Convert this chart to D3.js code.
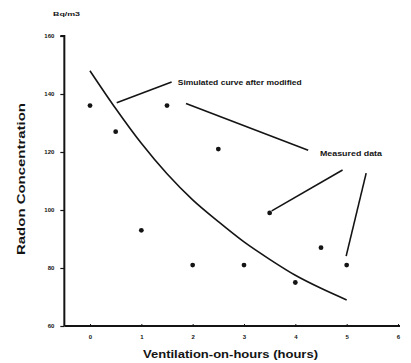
<!DOCTYPE html>
<html>
<head>
<meta charset="utf-8">
<script src="https://cdn.jsdelivr.net/npm/d3@7"></script>
<style>
  body { margin: 0; background: #fff; }
  svg { display: block; font-family: "Liberation Sans", Arial, sans-serif; font-weight: bold; }
</style>
</head>
<body>
<svg width="411" height="363"></svg>
<script>
const width = 411,
    height = 363;

// measured points (hours, Bq/m3)
const measuredHours = [0, 0.5, 1, 1.5, 2, 2.5, 3, 3.5, 4, 4.5, 5];
const measuredValues = [136, 127, 93, 136, 81, 121, 81, 99, 75, 87, 81];

// simulated curve after modified
const curveHours = [0, 0.5, 1, 1.5, 2, 2.5, 3, 3.5, 4, 4.5, 5];
const curveValues = [148, 135, 123, 112.5, 103.5, 96, 89, 83, 77.5, 73, 69];

const xTicks = [0, 1, 2, 3, 4, 5, 6];
const yTicks = [60, 80, 100, 120, 140, 160];

// leader lines in data units
const leaders = [
  [[0.52, 137], [1.59, 144.1]],
  [[1.87, 136.7], [4.25, 120.6]],
  [[4.92, 113.8], [3.54, 99.7]],
  [[5.38, 112.7], [4.99, 84.1]]
];
const notes = [
  { text: "Simulated curve after modified", x: 1.71, y: 144.1, len: 124 },
  { text: "Measured data", x: 4.48, y: 119.4, len: 62 }
];

const ink = "#141414";

const x = d3.scaleLinear().domain([0, 6]).range([90, 398]);
const y = d3.scaleLinear().domain([60, 160]).range([326, 36]);

const svg = d3.select("svg");

// y axis
const yAxis = svg.append("g")
  .attr("transform", `translate(${x(-0.5)},0)`)
  .call(d3.axisLeft(y).tickValues(yTicks).tickSize(4).tickPadding(6));
yAxis.select(".domain").attr("stroke", ink).attr("stroke-width", 2).attr("d", `M-4,${y(160)}H0V${y(60)}`);
yAxis.selectAll(".tick line").attr("stroke", ink).attr("stroke-width", 1.2);
yAxis.selectAll(".tick text")
  .attr("fill", ink)
  .style("font-size", "6px")
  .style("font-weight", "bold")
  .style("font-family", "Liberation Sans, Arial, sans-serif");

// x axis
const xAxis = svg.append("g")
  .attr("transform", `translate(0,${y(60)})`)
  .call(d3.axisBottom(x).tickValues(xTicks).tickFormat(d3.format("d")).tickSize(-2).tickPadding(9));
xAxis.select(".domain").attr("stroke", ink).attr("stroke-width", 2).attr("d", `M${x(-0.5)},0H${x(6) + 2}`);
xAxis.selectAll(".tick line").attr("stroke", ink).attr("stroke-width", 1);
xAxis.selectAll(".tick text")
  .attr("fill", ink)
  .style("font-size", "6px")
  .style("font-weight", "bold")
  .style("font-family", "Liberation Sans, Arial, sans-serif");

// simulated curve
const curveData = curveHours.map((h, i) => ({ h: h, v: curveValues[i] }));
svg.append("path")
  .datum(curveData)
  .attr("fill", "none")
  .attr("stroke", ink)
  .attr("stroke-width", 1.6)
  .attr("d", d3.line().x(d => x(d.h)).y(d => y(d.v)).curve(d3.curveMonotoneX));

// measured dots
svg.append("g")
  .selectAll("circle")
  .data(measuredHours.map((h, i) => ({ h: h, v: measuredValues[i] })))
  .join("circle")
  .attr("cx", d => x(d.h))
  .attr("cy", d => y(d.v))
  .attr("r", 2.4)
  .attr("fill", ink);

// leader lines
svg.append("g")
  .selectAll("line")
  .data(leaders)
  .join("line")
  .attr("x1", d => x(d[0][0]))
  .attr("y1", d => y(d[0][1]))
  .attr("x2", d => x(d[1][0]))
  .attr("y2", d => y(d[1][1]))
  .attr("stroke", ink)
  .attr("stroke-width", 1.6);

svg.append("g")
  .selectAll("text")
  .data(notes)
  .join("text")
  .attr("x", d => x(d.x))
  .attr("y", d => y(d.y))
  .attr("dy", "0.35em")
  .attr("textLength", d => d.len)
  .attr("lengthAdjust", "spacingAndGlyphs")
  .attr("fill", ink)
  .style("font-size", "7px")
  .text(d => d.text);

// unit label
svg.append("text")
  .attr("x", 53)
  .attr("y", 16)
  .attr("textLength", 27)
  .attr("lengthAdjust", "spacingAndGlyphs")
  .attr("fill", ink)
  .style("font-size", "6px")
  .text("Bq/m3");

// axis titles
svg.append("text")
  .attr("transform", "translate(25,179) rotate(-90)")
  .attr("text-anchor", "middle")
  .attr("textLength", 152)
  .attr("lengthAdjust", "spacingAndGlyphs")
  .attr("fill", ink)
  .style("font-size", "10px")
  .text("Radon Concentration");

svg.append("text")
  .attr("x", 230.5)
  .attr("y", 358)
  .attr("text-anchor", "middle")
  .attr("textLength", 175)
  .attr("lengthAdjust", "spacingAndGlyphs")
  .attr("fill", ink)
  .style("font-size", "11px")
  .text("Ventilation-on-hours (hours)");
</script>
</body>
</html>
